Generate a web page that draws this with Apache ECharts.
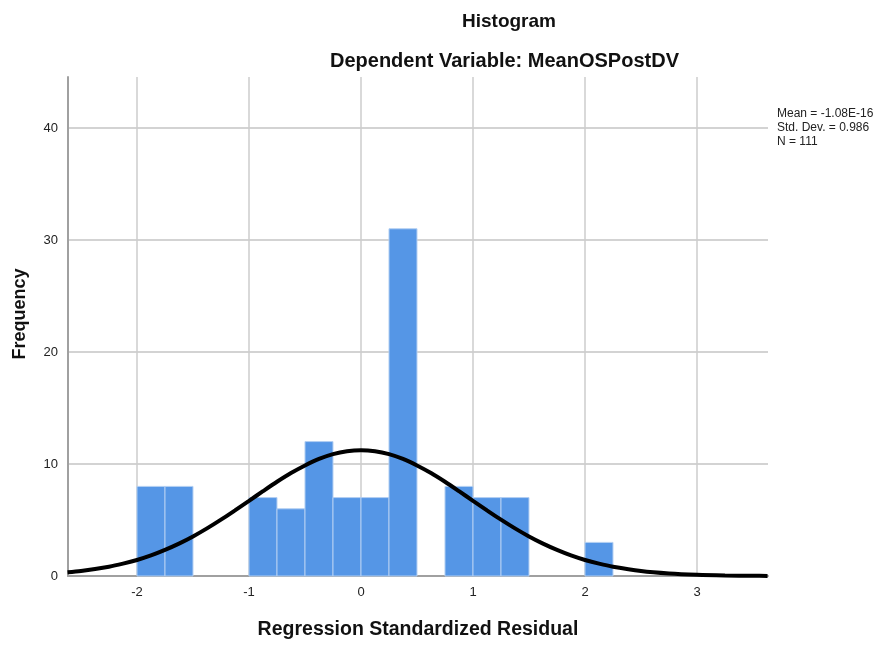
<!DOCTYPE html>
<html>
<head>
    <meta charset="utf-8" />
    <title>Histogram</title>
    <script src="https://cdn.jsdelivr.net/npm/echarts@6/dist/echarts.min.js"></script>
    <style>
        html, body { margin: 0; padding: 0; background: #fff; }
        #chart1 { width: 884px; height: 648px; }
    </style>
</head>
<body>
    <div id="chart1"></div>
    <script type="text/javascript">
        // histogram bins (left edge of each bin, width 0.25)
        var binStart = [-2, -1.75, -1, -0.75, -0.5, -0.25, 0, 0.25, 0.75, 1, 1.25, 2];
        var binCount = [8, 8, 7, 6, 12, 7, 7, 31, 8, 7, 7, 3];
        var binWidth = 0.25;

        // normal curve
        var curveX = [-2.62, -2.5, -2.25, -2.125, -2, -1.875, -1.75, -1.625, -1.5, -1.375, -1.25, -1.125,
                      -1, -0.875, -0.75, -0.625, -0.5, -0.375, -0.25, -0.125, 0,
                      0.125, 0.25, 0.375, 0.5, 0.625, 0.75, 0.875, 1, 1.125, 1.25, 1.375,
                      1.5, 1.625, 1.75, 1.875, 2, 2.125, 2.25, 2.5, 2.75, 3, 3.25, 3.5, 3.63];
        var curveY = [0.33, 0.45, 0.83, 1.10, 1.43, 1.84, 2.33, 2.89, 3.53, 4.25, 5.03, 5.86,
                      6.71, 7.57, 8.41, 9.19, 9.87, 10.45, 10.88, 11.14, 11.23,
                      11.14, 10.88, 10.45, 9.87, 9.19, 8.41, 7.57, 6.71, 5.86, 5.03, 4.25,
                      3.53, 2.89, 2.33, 1.84, 1.43, 1.10, 0.83, 0.45, 0.23, 0.11, 0.05, 0.02, 0.01];

        var statsText = ['Mean = -1.08E-16', 'Std. Dev. = 0.986', 'N = 111'];

        var bars = [];
        for (var i = 0; i < binStart.length; i++) {
            bars.push([binStart[i], binStart[i] + binWidth, binCount[i]]);
        }
        var curve = [];
        for (var j = 0; j < curveX.length; j++) {
            curve.push([curveX[j], curveY[j]]);
        }

        var font = '"Liberation Sans", Arial, sans-serif';
        var myChart1 = echarts.init(document.getElementById('chart1'));
        var option = {
            animation: false,
            backgroundColor: '#fff',
            grid: { left: 68, right: 116, top: 77, bottom: 72 },
            title: [
                { text: 'Histogram', left: 457, top: 7,
                  textStyle: { fontFamily: font, fontSize: 19, fontWeight: 'bold', color: '#111' } },
                { text: 'Dependent Variable: MeanOSPostDV', left: 325, top: 46,
                  textStyle: { fontFamily: font, fontSize: 20, fontWeight: 'bold', color: '#111' } }
            ],
            graphic: [
                { type: 'text', left: 777, top: 107,
                  style: { text: statsText.join('\n'), font: '12px ' + font, fill: '#222', lineHeight: 14 } },
                { type: 'text', x: 20, y: 314, rotation: Math.PI / 2,
                  style: { text: 'Frequency', font: 'bold 18px ' + font, fill: '#111',
                           align: 'center', verticalAlign: 'middle' } }
            ],
            xAxis: {
                type: 'value',
                min: -2.616,
                max: 3.634,
                name: 'Regression Standardized Residual',
                nameLocation: 'middle',
                nameGap: 44,
                nameTextStyle: { fontFamily: font, fontSize: 19.5, fontWeight: 'bold', color: '#111' },
                axisLine: { show: true, onZero: false, lineStyle: { color: '#a0a0a0', width: 2 } },
                axisTick: { show: false },
                axisLabel: { showMinLabel: false, showMaxLabel: false, margin: 10,
                             fontFamily: font, fontSize: 13, color: '#222' },
                splitLine: { show: true, showMinLine: false, showMaxLine: false,
                             lineStyle: { color: '#cccccc', width: 1.5 } }
            },
            yAxis: {
                type: 'value',
                min: 0,
                max: 44.55,
                interval: 10,
                axisLine: { show: true, onZero: false, lineStyle: { color: '#a0a0a0', width: 2 } },
                axisTick: { show: false },
                axisLabel: { showMaxLabel: false, margin: 10,
                             fontFamily: font, fontSize: 13, color: '#222' },
                splitLine: { show: true, showMinLine: false, showMaxLine: false,
                             lineStyle: { color: '#c4c4c4', width: 1.5 } }
            },
            series: [
                {
                    type: 'custom',
                    data: bars,
                    renderItem: function (params, api) {
                        var p0 = api.coord([api.value(0), api.value(2)]);
                        var p1 = api.coord([api.value(1), 0]);
                        return {
                            type: 'rect',
                            shape: { x: p0[0], y: p0[1], width: p1[0] - p0[0], height: p1[1] - p0[1] },
                            style: { fill: '#5596e6', stroke: '#b3cff2', lineWidth: 1 }
                        };
                    },
                    z: 2
                },
                {
                    type: 'line',
                    data: curve,
                    smooth: 0.3,
                    showSymbol: false,
                    lineStyle: { color: '#000', width: 4 },
                    z: 3
                }
            ]
        };
        myChart1.setOption(option);
    </script>
</body>
</html>
